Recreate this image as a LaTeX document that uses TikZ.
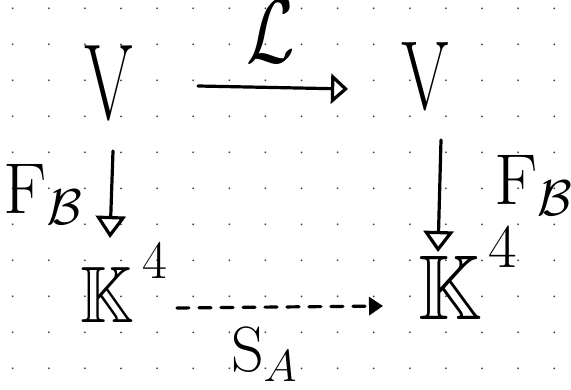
\documentclass[tikz,border=0pt]{standalone}
\usepackage{fix-cm}
\usepackage{amssymb}
\usepackage{graphicx}
\usetikzlibrary{arrows.meta,calc}
\newcommand{\narrow}[2]{\scalebox{#1}[1]{#2}}
\begin{document}
\begin{tikzpicture}[x=1pt,y=-1pt,
  lbl/.style={inner sep=0pt,outer sep=0pt},
  fv/.style={lbl,font=\fontsize{#1}{#1}\selectfont},
  ff/.style={lbl,font=\fontsize{72}{72}\selectfont},
  fl/.style={lbl,font=\fontsize{64}{64}\selectfont},
  fs/.style={lbl,font=\fontsize{64}{64}\selectfont},
  pen/.style={line width=3.2pt,line cap=round,line join=round},
  opentip/.style={pen,-{Triangle[open,length=#1,width=30pt]}},
  dashtip/.style={pen,dash pattern=on 12pt off 10pt,-{Triangle[length=14pt,width=18pt]}}
]
\useasboundingbox (0,0) rectangle (571,390);
\foreach \i in {0,...,15}{
  \foreach \j in {0,...,10}{
    \fill[black!75] ({12.7+36.1*\i},{8.3+36*\j}) circle (1pt);
  }
}
\node[fv=108,anchor=base] (V1) at (109,120) {\narrow{0.65}{V}};
\node[fv=98,anchor=base] (V2) at (425,110) {\narrow{0.7}{V}};
\node[fv=80,anchor=base west] (K1) at (80,323)
  {\narrow{0.85}{$\mathbb{K}$}\hspace{10pt}\raisebox{44pt}{\fontsize{54}{54}\selectfont 4}};
\node[fv=92,anchor=base west] (K2) at (418,320)
  {\narrow{0.88}{$\mathbb{K}$}\hspace{8pt}\raisebox{52pt}{\fontsize{62}{62}\selectfont 4}};
\node[fl,anchor=base] (L) at (271,63) {\scalebox{1.1}[1.45]{$\mathcal{L}$}};
\node[ff,anchor=base west] (F1) at (4,214) {$\mathrm{F}_{\mathcal{B}}$};
\node[ff,anchor=base west] (F2) at (494,205) {$\mathrm{F}_{\mathcal{B}}$};
\node[fs,anchor=base west] (S) at (231,372) {$\mathrm{S}_{A}$};
\draw[opentip=17pt] ([shift={(89,-34)}]V1.base) -- ([shift={(-77,-21)}]V2.base);
\draw[opentip=22pt] ([shift={(4,31)}]V1.base) -- ([shift={(30,-85)}]K1.base west);
\draw[opentip=21pt] ([shift={(16,30)}]V2.base) -- ([shift={(20,-68)}]K2.base west);
\draw[dashtip] ([shift={(97,-15)}]K1.base west) -- ([shift={(-35,-14)}]K2.base west);
\end{tikzpicture}
\end{document}
